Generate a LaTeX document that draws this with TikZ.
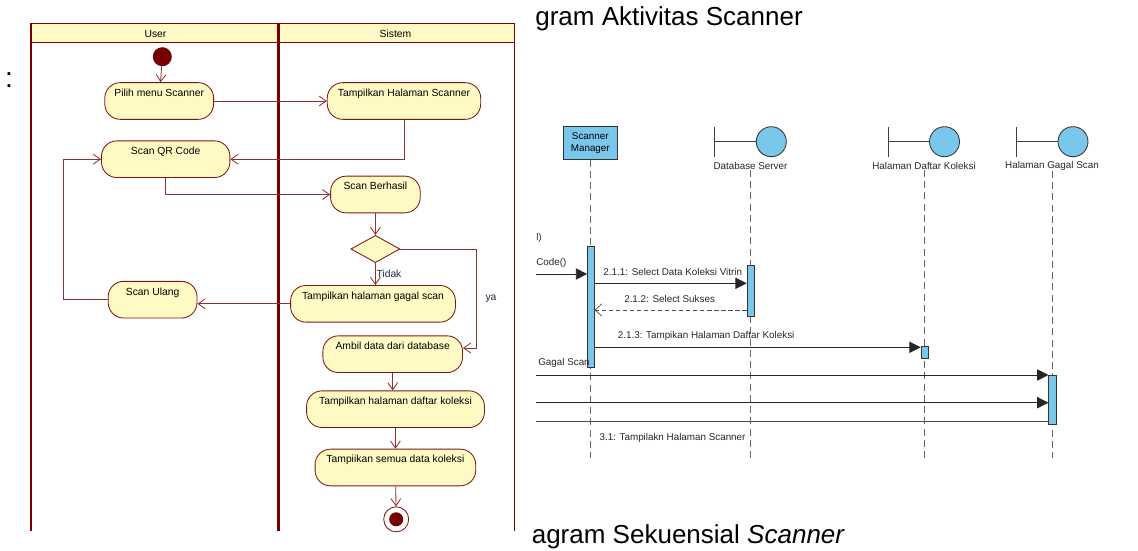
\documentclass[tikz,border=0pt]{standalone}
\usepackage{fontspec}
\setmainfont{Liberation Sans}
\usepackage{tikz}
\usetikzlibrary{arrows.meta}
\usetikzlibrary{shapes.geometric}

\definecolor{actfill}{RGB}{255,250,196}
\definecolor{actborder}{RGB}{130,20,20}
\definecolor{actline}{RGB}{140,50,50}
\definecolor{lanered}{RGB}{120,0,0}
\definecolor{seqblue}{RGB}{122,199,236}
\definecolor{lblblue}{RGB}{30,40,70}

\begin{document}
\begin{tikzpicture}[x=0.025cm, y=-0.025cm,
	act/.style={draw=actborder, fill=actfill, line width=0.6pt, rounded corners=11pt, font=\fontsize{7.35}{8}\selectfont, text height=7.8pt, text depth=14.3pt, inner ysep=2pt, inner xsep=0pt},
	flow/.style={draw=actline, line width=0.6pt, -{Straight Barb[length=5pt,width=7pt]}},
	lane/.style={draw=lanered, line width=1pt},
	seqtxt/.style={font=\fontsize{7}{9}\selectfont, text=black!85, inner sep=0pt},
	lifeline/.style={draw=black!60, dash pattern=on 5pt off 3pt, line width=0.5pt},
	actv/.style={draw=black!80, fill=seqblue, line width=0.5pt, inner sep=0pt},
	bnd/.style={draw=black!75, line width=0.7pt},
	msg/.style={draw=black!85, line width=0.6pt, -{Triangle[length=8pt,width=8pt]}},
	ret/.style={draw=black!70, line width=0.5pt, dash pattern=on 3pt off 2pt, -{Straight Barb[length=5pt,width=9pt]}},
	title/.style={font=\fontsize{18.5}{22}\selectfont, inner sep=0pt}]
	\useasboundingbox (0,0) rectangle (1138,551);

	% swimlanes
	\draw[lane, fill=actfill] (31,23.3) rectangle (514.5,42.7);
	\draw[lane] (31,42.7) -- (31,531);
	\draw[lane] (514.5,42.7) -- (514.5,531);
	\draw[draw=lanered, line width=2.2pt] (278.9,23.3) -- (278.9,531);
	\node[font=\fontsize{7.35}{8}\selectfont] (user) at (155.5,33.5) {User};
	\node[font=\fontsize{7.35}{8}\selectfont] (sistem) at (395.5,33.5) {Sistem};

	% activity nodes
	\node[circle, fill=lanered, minimum size=0.475cm, inner sep=0pt] (start) at (162.3,56.7) {};
	\node[act, minimum width=2.72cm] (pilih) at (159.2,101) {Pilih menu Scanner};
	\node[act, minimum width=3.835cm] (tampil) at (404,101) {Tampilkan Halaman Scanner};
	\node[act, minimum width=3.21cm] (scanqr) at (165.7,159.2) {Scan QR Code};
	\node[act, minimum width=2.24cm] (berhasil) at (375.4,194.5) {Scan Berhasil};
	\node[diamond, draw=actborder, fill=actfill, line width=0.6pt, minimum width=1.225cm, minimum height=0.68cm, inner sep=0pt] (dec) at (375.4,249) {};
	\node[act, minimum width=4.12cm] (gagal) at (373,303.8) {Tampilkan halaman gagal scan};
	\node[act, minimum width=2.22cm] (ulang) at (152.6,299.7) {Scan Ulang};
	\node[act, minimum width=3.49cm] (ambil) at (392.7,354.2) {Ambil data dari database};
	\node[act, minimum width=4.445cm] (daftar) at (395.5,409.2) {Tampilkan halaman daftar koleksi};
	\node[act, minimum width=4.015cm] (semua) at (395.4,467.5) {Tampiikan semua data koleksi};
	\node[circle, draw=actborder, fill=white, line width=0.6pt, minimum size=0.625cm, inner sep=0pt] (end) at (396.2,519.3) {};
	\node[circle, fill=lanered, minimum size=0.35cm, inner sep=0pt] (endin) at (end) {};
	\coordinate (yabend) at (476.7,348);
	\coordinate (loop) at (63.6,159.2);

	\draw[flow] (start) -- (pilih);
	\draw[flow] (pilih) -- (tampil);
	\draw[flow] (tampil.south) |- (scanqr.east);
	\draw[flow] (scanqr.south) |- (berhasil.west);
	\draw[flow] (berhasil) -- (dec);
	\draw[flow] (dec.south) -- node[midway, anchor=west, inner sep=0.5pt, text=lblblue, font=\fontsize{7.35}{8}\selectfont] (tidak) {Tidak} (dec.south |- gagal.north);
	\draw[flow] (dec.east) -| node[pos=0.75, anchor=west, inner sep=0pt, xshift=6pt, text=lblblue, font=\fontsize{7.35}{8}\selectfont] (ya) {ya} (yabend) -- (yabend -| ambil.east);
	\draw[flow] (gagal.west) -- (gagal.west -| ulang.east);
	\draw[flow] (ulang.west) -| (loop) -- (scanqr.west);
	\draw[flow] (ambil.south) -- (ambil.south |- daftar.north);
	\draw[flow] (daftar) -- (semua);
	\draw[flow] (semua) -- (end);

	% page fragment
	\node[anchor=base, font=\fontsize{20}{24}\selectfont, inner sep=0pt] (frag) at (9,88) {:};
	\node[title, anchor=base west] (ttlakt) at (535,26) {gram Aktivitas Scanner};
	\node[title, anchor=base west] (ttlseq) at (531.5,543.5) {agram Sekuensial \textit{Scanner}};

	% sequence diagram
	\coordinate (lifeend) at (0,458);
	\node[actv, font=\fontsize{7}{9}\selectfont, align=center, minimum width=1.365cm, minimum height=0.815cm] (smbox) at (590.3,143) {Scanner\\Manager};
	\node[seqtxt] (dblbl) at (750.5,166) {Database Server};
	\node[seqtxt] (dklbl) at (924,166) {Halaman Daftar Koleksi};
	\node[seqtxt] (gslbl) at (1052,166) {Halaman Gagal Scan};
	\draw[lifeline] (smbox.south) -- (smbox.south |- lifeend);
	\draw[lifeline] (dblbl.south) -- (dblbl.south |- lifeend);
	\draw[lifeline] (dklbl.south) -- (dklbl.south |- lifeend);
	\draw[lifeline] (gslbl.south) -- (gslbl.south |- lifeend);

	\draw[bnd] (714.6,126.7) -- (714.6,156.7);
	\node[circle, draw=black!80, fill=seqblue, line width=0.6pt, minimum size=0.75cm, inner sep=0pt] (dbcirc) at (771.3,141.7) {};
	\draw[bnd] (714.6,141.7) -- (dbcirc.west);
	\draw[bnd] (888.6,126.7) -- (888.6,156.7);
	\node[circle, draw=black!80, fill=seqblue, line width=0.6pt, minimum size=0.75cm, inner sep=0pt] (dkcirc) at (944.5,141.7) {};
	\draw[bnd] (888.6,141.7) -- (dkcirc.west);
	\draw[bnd] (1016,126.7) -- (1016,156.7);
	\node[circle, draw=black!80, fill=seqblue, line width=0.6pt, minimum size=0.75cm, inner sep=0pt] (gscirc) at (1073,141.7) {};
	\draw[bnd] (1016,141.7) -- (gscirc.west);

	\node[actv, minimum width=0.1675cm, minimum height=3.015cm] (smact) at (590.85,307) {};
	\node[actv, minimum width=0.175cm, minimum height=1.2825cm] (dbact) at (750.5,290.65) {};
	\node[actv, minimum width=0.185cm, minimum height=0.3cm] (dkact) at (924.7,352.7) {};
	\node[actv, minimum width=0.1975cm, minimum height=1.225cm] (gsact) at (1052.75,399.5) {};

	\coordinate (in1) at (536,274);
	\coordinate (m211) at (0,283.3);
	\coordinate (m212) at (0,310);
	\coordinate (m213) at (0,347.3);
	\coordinate (in2) at (536,375);
	\coordinate (in3) at (536,402.7);
	\coordinate (out1) at (536,421);
	\draw[msg] (in1) -- (in1 -| smact.west);
	\draw[msg] (smact.east |- m211) -- (dbact.west |- m211);
	\draw[ret] (dbact.west |- m212) -- (smact.east |- m212);
	\draw[msg] (smact.east |- m213) -- (dkact.west |- m213);
	\draw[msg] (in2) -- (in2 -| gsact.west);
	\draw[msg] (in3) -- (in3 -| gsact.west);
	\draw[draw=black!70, line width=0.6pt] (gsact.west |- out1) -- (out1);

	\node[seqtxt, anchor=west] (lcall) at (536,238.3) {l)};
	\node[seqtxt, anchor=west] (code) at (536,262.7) {Code()};
	\node[seqtxt, anchor=west] (l211) at (603.2,271.7) {2.1.1: Select Data Koleksi Vitrin};
	\node[seqtxt] (l212) at (669.6,299.3) {2.1.2: Select Sukses};
	\node[seqtxt, anchor=west] (l213) at (617.6,336) {2.1.3: Tampikan Halaman Daftar Koleksi};
	\node[seqtxt, anchor=west] (lgagal) at (538,363.3) {Gagal Scan};
	\node[seqtxt, anchor=west] (l31) at (599.3,438.3) {3.1: Tampilakn Halaman Scanner};
\end{tikzpicture}
\end{document}
